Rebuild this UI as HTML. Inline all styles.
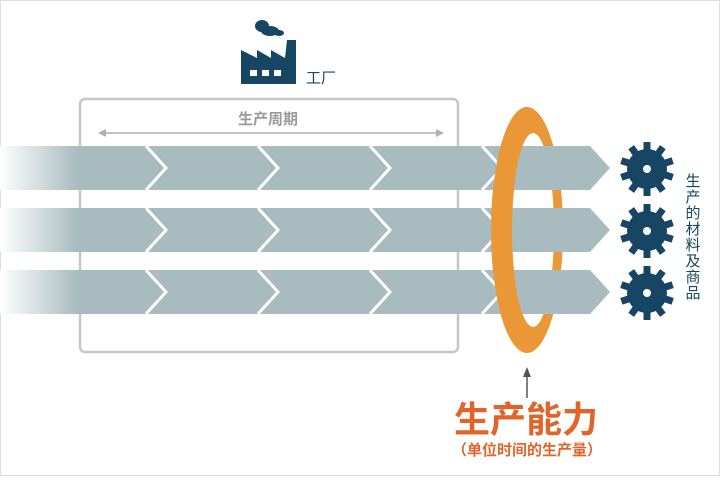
<!DOCTYPE html>
<html><head><meta charset="utf-8"><style>
html,body{margin:0;padding:0;background:#fff}
body{width:720px;height:476px;overflow:hidden;font-family:"Liberation Sans","Noto Sans CJK SC",sans-serif}
</style></head><body>
<svg width="720" height="476" viewBox="0 0 720 476" xmlns="http://www.w3.org/2000/svg" font-family="Liberation Sans, Noto Sans CJK SC, sans-serif">
<defs>
<linearGradient id="fade" x1="0" x2="1"><stop offset="0" stop-color="#fff" stop-opacity="1"/><stop offset="1" stop-color="#fff" stop-opacity="0"/></linearGradient>
<g id="gear">
<g fill="#174664">
<circle r="20"/>
<g id="t"><rect x="-3.5" y="-27" width="7" height="10"/><rect x="-3.5" y="17" width="7" height="10"/></g>
<use href="#t" transform="rotate(36)"/><use href="#t" transform="rotate(72)"/><use href="#t" transform="rotate(108)"/><use href="#t" transform="rotate(144)"/>
</g>
<circle r="4" fill="#fff"/>
</g>
<g id="row">
<polygon points="0,0 590,0 610,22 590,44 0,44" fill="#a8bbbf"/>
<g stroke="#fff" stroke-width="3" fill="none">
<polyline points="146,0 166,22 146,44"/><polyline points="258,0 278,22 258,44"/><polyline points="370,0 390,22 370,44"/><polyline points="482,0 502,22 482,44"/>
</g>
<rect x="0" y="0" width="78" height="44" fill="url(#fade)"/>
</g>
</defs>
<rect x="0.5" y="0.5" width="719" height="475" fill="none" stroke="#ddd"/>
<!-- factory -->
<g fill="#174664">
<ellipse cx="262" cy="26" rx="7" ry="6"/><ellipse cx="270" cy="31" rx="9" ry="5"/><ellipse cx="279" cy="33" rx="5" ry="3"/>
<polygon points="241,84 241,50 257,58 257,50 271,58 271,50 285,58 287,40 296,40 296,84"/>
</g>
<g fill="#fff"><rect x="250" y="70" width="7" height="6"/><rect x="262" y="70" width="7" height="6"/><rect x="274" y="70" width="7" height="6"/></g>
<text x="306" y="83" font-size="15" fill="#174664">工厂</text>
<!-- box -->
<rect x="80" y="99" width="378" height="253" rx="5" fill="none" stroke="#c6c6c6" stroke-width="2.5"/>
<text x="268" y="124" font-size="15" font-weight="bold" fill="#9a9a9a" text-anchor="middle">生产周期</text>
<line x1="104" y1="133" x2="438" y2="133" stroke="#b0b0b0" stroke-width="1.5"/>
<polygon points="98,133 106,129 106,137" fill="#b0b0b0"/><polygon points="444,133 436,129 436,137" fill="#b0b0b0"/>
<!-- ring back -->
<path fill-rule="evenodd" fill="#ea9837" d="M527,107 A36,123 0 1,0 527.01,107 Z M533,133 A21,97 0 1,0 533.01,133 Z"/>
<use href="#row" transform="translate(0,146)"/>
<use href="#row" transform="translate(0,208)"/>
<use href="#row" transform="translate(0,270)"/>
<!-- ring front (left half) -->
<path fill="#ea9837" d="M527,107 A36,123 0 0,0 527,353 L533,327 A21,97 0 0,1 533,133 Z"/>
<!-- gears -->
<use href="#gear" transform="translate(647,169)"/>
<use href="#gear" transform="translate(647,231)"/>
<use href="#gear" transform="translate(647,293)"/>
<g font-size="15" fill="#174664" text-anchor="middle">
<text x="693" y="186">生</text><text x="693" y="202">产</text><text x="693" y="218">的</text><text x="693" y="234">材</text><text x="693" y="250">料</text><text x="693" y="266">及</text><text x="693" y="282">商</text><text x="693" y="298">品</text>
</g>
<!-- pointer -->
<line x1="527" y1="375" x2="527" y2="398" stroke="#555" stroke-width="1.5"/>
<polygon points="527,367 523,377 531,377" fill="#555"/>
<text x="526" y="432" font-size="36" font-weight="bold" fill="#e0652a" text-anchor="middle">生产能力</text>
<text x="527" y="455" font-size="15" font-weight="bold" fill="#e0652a" text-anchor="middle">（单位时间的生产量）</text>
</svg>
</body></html>
